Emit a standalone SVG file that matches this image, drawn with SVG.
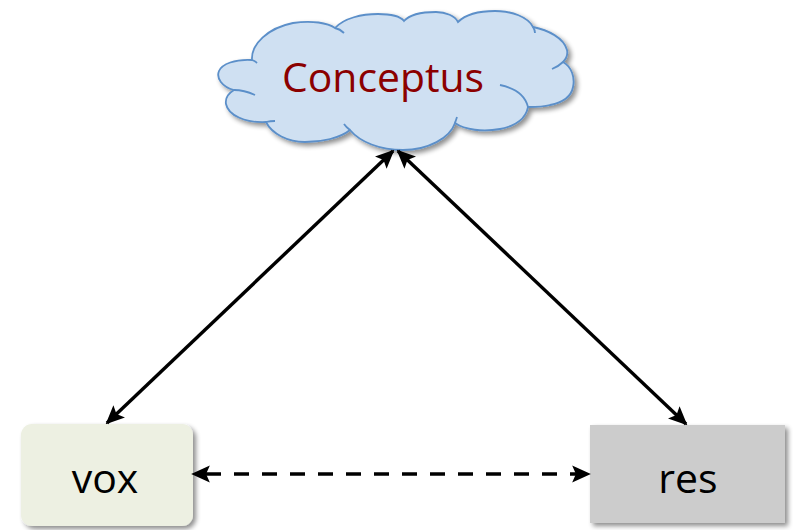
<svg xmlns="http://www.w3.org/2000/svg" width="794" height="530" viewBox="0 0 794 530">
<defs>
<style>
.lbl{font-family:"Open Sans","Liberation Sans",sans-serif;font-size:41px;text-anchor:middle}
.conn{stroke:#000;stroke-width:3.4;fill:none}
.edge{fill:none;stroke:#5B8FC9;stroke-width:1.8}
</style>
<filter id="sh" x="-10%" y="-10%" width="130%" height="130%">
<feGaussianBlur in="SourceAlpha" stdDeviation="2.5"/>
<feOffset dx="3" dy="3" result="b"/>
<feComponentTransfer><feFuncA type="linear" slope="0.45"/></feComponentTransfer>
<feMerge><feMergeNode/><feMergeNode in="SourceGraphic"/></feMerge>
</filter>
<marker id="ah" viewBox="0 0 10 10" refX="9" refY="5" markerWidth="5.5" markerHeight="5.5" orient="auto-start-reverse" markerUnits="strokeWidth">
<path d="M0,0.5 L10,5 L0,9.5 L2,5 Z" fill="#000"/>
</marker>
</defs>
<g id="cloud">
<path filter="url(#sh)" fill="#CFE0F2" stroke="#5B8FC9" stroke-width="1.8" d="M252,60 C251,44 268,28 293,23 C312,20 328,23 335,28 C344,18 362,14 378,14 C390,14 400,16 404,21 C410,14 425,12 436,12 C446,12 455,16 458,22 C466,14 480,11 495,11 C512,11 528,17 533,27 C548,30 564,38 567,50 C568,55 566,59 563,62 C572,67 575,78 573,87 C571,98 560,103 550,105 C543,107 535,107 528,107 C526,118 516,126 500,129 C483,132 465,130 455,123 C450,138 428,150 403,150 C380,150 360,142 350,130 C340,138 322,142 305,142 C288,142 272,134 266,122 C245,123 228,115 226,104 C225,98 229,93 234,90 C222,87 216,78 219,71 C222,64 235,59 252,60 Z"/>
<path class="edge" d="M252,60 Q255,61 257,63 M335,28 Q340,29 344,33 M533,27 Q535,30 535,33 M563,62 Q559,66 552,69 M528,107 Q524,90 500,85 M455,123 Q456,120 457,117 M350,130 Q346,127 344,124 M266,122 Q270,121 275,121 M234,90 Q244,90 255,95"/>
<text class="lbl" x="383" y="92" fill="#8B0000" textLength="202" lengthAdjust="spacingAndGlyphs">Conceptus</text>
</g>
<g id="vox">
<rect x="21" y="424" width="172" height="102" rx="11" fill="#EDF0E2" filter="url(#sh)"/>
<text class="lbl" x="105" y="493" fill="#000">vox</text>
</g>
<g id="res">
<rect x="590" y="425" width="195" height="98" fill="#CCCCCC" filter="url(#sh)"/>
<text class="lbl" x="688" y="493" fill="#000">res</text>
</g>
<g id="connectors">
<line class="conn" x1="393" y1="151" x2="107" y2="423" marker-start="url(#ah)" marker-end="url(#ah)"/>
<line class="conn" x1="398" y1="151" x2="686" y2="424" marker-start="url(#ah)" marker-end="url(#ah)"/>
<line class="conn" x1="193" y1="474" x2="589" y2="474" stroke-dasharray="15 13" stroke-dashoffset="-13" marker-start="url(#ah)" marker-end="url(#ah)"/>
</g>
</svg>
